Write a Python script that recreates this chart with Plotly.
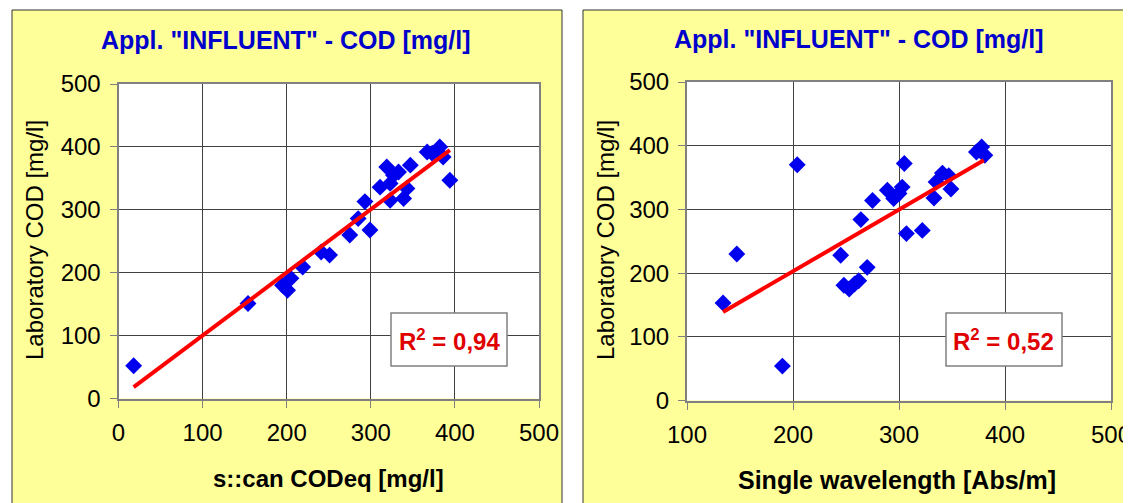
import plotly.graph_objects as go

# ---------------- data ----------------
scan_codeq = [18, 154, 195, 201, 205, 219, 241, 251, 275, 285, 293, 299, 311, 319,
              323, 323, 327, 333, 339, 343, 347, 367, 373, 382, 386, 394]
lab_cod_left = [52, 151, 180, 172, 191, 209, 233, 228, 260, 286, 313, 268, 336, 368,
                342, 315, 355, 360, 318, 334, 371, 392, 390, 400, 384, 347]

single_wl = [134, 147, 190, 204, 245, 248, 253, 258, 262, 270, 264, 275, 289, 295,
             300, 303, 305, 307, 322, 333, 335, 341, 347, 349, 373, 378, 381]
lab_cod_right = [153, 230, 54, 370, 228, 181, 175, 183, 188, 209, 284, 314, 330, 317,
                 325, 335, 372, 262, 267, 318, 343, 357, 353, 332, 390, 398, 385]

trend_left_x = [18, 394]
trend_left_y = [18, 395]
trend_right_x = [134, 380]
trend_right_y = [139, 377]

titles = ['Appl. "INFLUENT" - COD [mg/l]', 'Appl. "INFLUENT" - COD [mg/l]']
x_titles = ["s::can CODeq [mg/l]", "Single wavelength [Abs/m]"]
y_title = "Laboratory COD [mg/l]"
r2_labels = ["R<sup>2</sup> = 0,94", "R<sup>2</sup> = 0,52"]

# ---------------- layout helpers ----------------
W, H = 1131, 503
OFF = 8  # page body margin offset
FONT = "Liberation Sans, Arial, sans-serif"


def fx(px):
    return (px - OFF) / W


def fy(py):
    return 1 - (py - OFF) / H


BLUE = "#0000ee"
RED = "#ff0000"
YELLOW = "#ffff99"

fig = go.Figure()

fig.add_trace(go.Scatter(x=scan_codeq, y=lab_cod_left, mode="markers",
                         marker=dict(symbol="diamond", size=13, color=BLUE,
                                     line=dict(width=0)),
                         xaxis="x", yaxis="y", showlegend=False))
fig.add_trace(go.Scatter(x=trend_left_x, y=trend_left_y, mode="lines",
                         line=dict(color=RED, width=4),
                         xaxis="x", yaxis="y", showlegend=False))
fig.add_trace(go.Scatter(x=single_wl, y=lab_cod_right, mode="markers",
                         marker=dict(symbol="diamond", size=13, color=BLUE,
                                     line=dict(width=0)),
                         xaxis="x2", yaxis="y2", showlegend=False))
fig.add_trace(go.Scatter(x=trend_right_x, y=trend_right_y, mode="lines",
                         line=dict(color=RED, width=4),
                         xaxis="x2", yaxis="y2", showlegend=False))

axis_common = dict(
    showgrid=True, gridcolor="#404040", gridwidth=1,
    showline=True, linecolor="#808080", linewidth=2, mirror=True,
    ticks="outside", ticklen=7, tickcolor="#808080", tickwidth=1,
    tickfont=dict(family=FONT, size=24, color="black"),
    zeroline=False, dtick=100, fixedrange=True, automargin=False,
)

fig.update_layout(
    template="none",
    width=W, height=H, autosize=False,
    margin=dict(l=0, r=0, t=0, b=0, pad=0, autoexpand=False),
    paper_bgcolor="white", plot_bgcolor="white",
    showlegend=False,
    xaxis=dict(domain=[fx(118.5), fx(539)], range=[0, 500], anchor="y",
               ticklabelstandoff=5, **axis_common),
    yaxis=dict(domain=[fy(398.5), fy(84)], range=[0, 500], anchor="x",
               ticklabelstandoff=4, **axis_common),
    xaxis2=dict(domain=[fx(687), fx(1111)], range=[100, 500], anchor="y2",
                ticklabelstandoff=5, **axis_common),
    yaxis2=dict(domain=[fy(400.5), fy(82)], range=[0, 500], anchor="x2",
                ticklabelstandoff=4, **axis_common),
)

shapes = [
    dict(type="rect", xref="paper", yref="paper", x0=fx(12), x1=fx(562),
         y0=fy(10), y1=-0.05, fillcolor=YELLOW, line=dict(color="#333333", width=1),
         layer="below"),
    dict(type="rect", xref="paper", yref="paper", x0=fx(583), x1=1.05,
         y0=fy(10), y1=-0.05, fillcolor=YELLOW, line=dict(color="#333333", width=1),
         layer="below"),
    dict(type="rect", xref="x domain", yref="y domain", x0=0, x1=1, y0=0, y1=1,
         fillcolor="white", line=dict(width=0), layer="below"),
    dict(type="rect", xref="x2 domain", yref="y2 domain", x0=0, x1=1, y0=0, y1=1,
         fillcolor="white", line=dict(width=0), layer="below"),
    # R^2 boxes
    dict(type="rect", xref="paper", yref="paper", x0=fx(391), x1=fx(507),
         y0=fy(366), y1=fy(313), fillcolor="white",
         line=dict(color="#808080", width=1.5), layer="above"),
    dict(type="rect", xref="paper", yref="paper", x0=fx(946), x1=fx(1062),
         y0=fy(366), y1=fy(313), fillcolor="white",
         line=dict(color="#808080", width=1.5), layer="above"),
]
fig.update_layout(shapes=shapes)

ann = []
title_font = dict(family=FONT, size=25, color="#0000cc")
for (cx, cy), t in zip([(286, 40), (859, 39)], titles):
    ann.append(dict(text="<b>" + t + "</b>", x=fx(cx), y=fy(cy), xref="paper",
                    yref="paper", xanchor="center", yanchor="middle",
                    showarrow=False, font=title_font))
for (cx, cy, fs), t in zip([(328, 478, 24), (897, 480, 25)], x_titles):
    ann.append(dict(text="<b>" + t + "</b>", x=fx(cx), y=fy(cy), xref="paper",
                    yref="paper", xanchor="center", yanchor="middle",
                    showarrow=False, font=dict(family=FONT, size=fs, color="black")))
for (cx, cy) in [(34, 240), (605, 240)]:
    ann.append(dict(text=y_title, x=fx(cx), y=fy(cy), xref="paper", yref="paper",
                    xanchor="center", yanchor="middle", textangle=-90,
                    showarrow=False, font=dict(family=FONT, size=24, color="black")))
for (cx, cy), t in zip([(449, 340), (1004, 340)], r2_labels):
    ann.append(dict(text="<b>" + t + "</b>", x=fx(cx), y=fy(cy), xref="paper",
                    yref="paper", xanchor="center", yanchor="middle",
                    showarrow=False, font=dict(family=FONT, size=24, color="#e00000")))
fig.update_layout(annotations=ann)

fig.write_html("out.html")
